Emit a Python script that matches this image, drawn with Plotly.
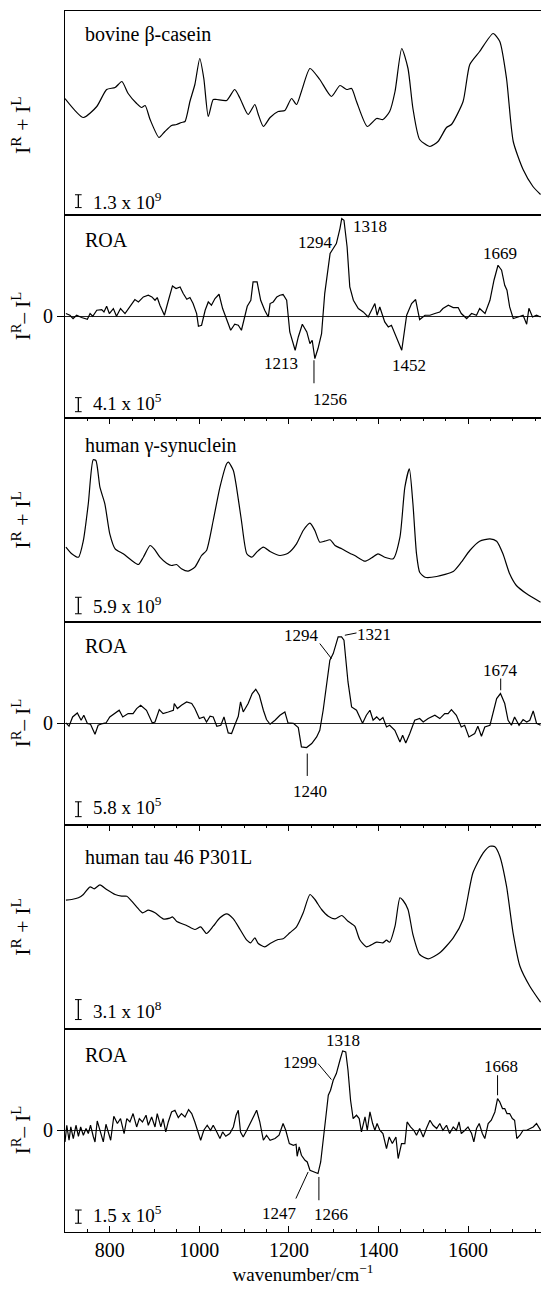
import plotly.graph_objects as go

# ---------------- data (wavenumber / cm^-1, relative intensity) ----------------
casein_raman_wn = [700, 741, 771, 793, 812, 827, 841, 860, 871, 879, 890, 910, 923, 938, 949, 960, 968, 979,
                   990, 1001, 1010, 1020, 1031, 1039, 1061, 1079, 1091, 1109, 1124, 1131, 1143, 1158, 1176,
                   1191, 1206, 1217, 1228, 1247, 1269, 1295, 1314, 1329, 1340, 1351, 1375, 1396, 1410, 1425,
                   1437, 1452, 1466, 1477, 1492, 1515, 1533, 1552, 1563, 1589, 1604, 1626, 1656, 1671, 1686,
                   1701, 1723, 1745, 1762]
casein_raman_int = [116, 97, 108, 125, 127, 133, 121, 111, 107, 109, 95, 77, 83, 89, 90, 92, 93, 113,
                    130, 156, 136, 98, 115, 115, 114, 125, 116, 100, 110, 101, 88, 97, 103,
                    104, 116, 110, 123, 146, 135, 118, 129, 125, 126, 113, 88, 96, 95, 103,
                    123, 166, 146, 106, 75, 68, 73, 87, 90, 113, 150, 163, 181, 173, 136,
                    73, 45, 28, 20]

casein_roa_wn = [702, 711, 718, 726, 737, 750, 756, 762, 771, 782, 787, 793, 799, 808, 815, 824, 834, 845,
                 856, 864, 875, 886, 894, 901, 906, 912, 922, 931, 940, 948, 957, 964, 972, 979, 986, 994,
                 998, 1005, 1013, 1020, 1027, 1035, 1044, 1052, 1061, 1070, 1079, 1087, 1094, 1102, 1107,
                 1115, 1120, 1129, 1137, 1146, 1154, 1158, 1165, 1173, 1180, 1187, 1195, 1202, 1214, 1221,
                 1230, 1240, 1247, 1252, 1258, 1265, 1273, 1280, 1292, 1299, 1306, 1314, 1318, 1323, 1330,
                 1336, 1344, 1355, 1366, 1377, 1385, 1392, 1397, 1403, 1414, 1422, 1429, 1440, 1452, 1463,
                 1474, 1483, 1492, 1504, 1515, 1526, 1537, 1544, 1556, 1567, 1578, 1585, 1597, 1608, 1619,
                 1626, 1638, 1649, 1658, 1667, 1675, 1682, 1687, 1693, 1701, 1712, 1723, 1731, 1736, 1744,
                 1753, 1762]
casein_roa_int = [2.7, 1, -2.3, 1, -1.3, -3, 2.7, 0, 6, 6.7, 4.3, 10, 2.7, 7.7, 0, 7.7, 2.7, 9.3,
                  16.7, 14.3, 19.3, 21, 19.3, 16, 18.7, 11, 1, 16, 30.3, 27.7, 29.3, 22.7, 17, 18.7, 12.7, 2.7,
                  -10, -9, 6, 14.3, 11, 17.7, 22, 7.7, -2.3, -14, -8, -9, -14, 1, 10,
                  16, 34.3, 34.3, 16, 6, -0.7, 12.7, 14.3, 19.3, 21, 21.7, 16, -15.7, -34, -20.7,
                  -8, -15.7, -27.3, -24, -42.3, -32.3, -17.3, 22.7, 62.7, 67.7, 72.7, 87.7, 97.7, 96, 69.3,
                  29.3, 16, 7.7, 4.3, -0.7, 6, 12.7, 1, 9.3, -5.7, -10.7, -9, -20.7, -34, 1,
                  12.7, 16.7, -3.3, 1, 1, 2.7, 4.3, 7.7, 11, 8.7, 8.7, 2.7, -2.3, 2.7, 1,
                  7.7, 2.7, 16, 36, 51, 46, 31, 26, 9.3, -2.3, -0.7, 1, -8, 8, -0.7,
                  1, -0.7]

synuclein_raman_wn = [702, 715, 730, 741, 752, 763, 769, 778, 789, 800, 812, 830, 849, 864, 875, 890, 899, 912,
                      927, 938, 949, 960, 975, 990, 1005, 1016, 1031, 1046, 1061, 1065, 1076, 1083, 1094, 1106,
                      1117, 1128, 1143, 1158, 1180, 1198, 1217, 1232, 1247, 1258, 1269, 1280, 1292, 1303, 1318,
                      1336, 1347, 1370, 1385, 1399, 1414, 1433, 1448, 1459, 1469, 1477, 1485, 1492, 1504, 1530,
                      1567, 1585, 1604, 1626, 1649, 1664, 1678, 1693, 1708, 1731, 1762]
synuclein_raman_int = [74.3, 67.7, 64.3, 81, 117.7, 161.7, 161, 134.3, 117.7, 87.7, 72.7, 67.7, 61, 57, 64.3, 76, 72.7, 64.3,
                       58.3, 56, 57, 52.7, 50.3, 54.3, 66, 71, 101, 134.3, 157.7, 159.3, 151, 134.3, 101, 67.7,
                       64.3, 69.3, 74.3, 70, 66, 68.3, 77.7, 91, 98.3, 91, 79.3, 80.3, 81.7, 76, 72.7,
                       68.3, 66, 60.3, 63.7, 67.7, 64.3, 62.7, 84.3, 134.3, 152.7, 117.7, 67.7, 49.3, 44.3, 45,
                       50, 59.3, 71, 80.3, 82.7, 80.3, 67.7, 47.7, 36, 27.7, 19.3]

synuclein_roa_wn = [702, 709, 717, 727.5, 736, 742, 750, 757, 767, 774, 784, 791.5, 800, 812, 821, 829, 841, 852,
                    860, 869, 882, 895, 901, 910.5, 919, 930.6, 942, 944, 951, 960, 971.6, 983, 990, 1000, 1010,
                    1016, 1024, 1031, 1039, 1048, 1055, 1064.5, 1072, 1079, 1087, 1092, 1098, 1109, 1118, 1126,
                    1134, 1143, 1150, 1158, 1169, 1180, 1191, 1198, 1210, 1221, 1228, 1239.5, 1251, 1262, 1269,
                    1276.5, 1284, 1291.5, 1299, 1310, 1317.6, 1323, 1332, 1340, 1351, 1364.5, 1373, 1381, 1388,
                    1396, 1403, 1410, 1418, 1425, 1436.6, 1448, 1454, 1461, 1470, 1481, 1492, 1500, 1511, 1526,
                    1537, 1548, 1555.5, 1563, 1574, 1585, 1592.5, 1602, 1615, 1622, 1630, 1637.5, 1649, 1657.5,
                    1664, 1672.5, 1682, 1689.5, 1697, 1704, 1714, 1723, 1731, 1738, 1745.6, 1753, 1762]
synuclein_roa_int = [0.3, -3, 6.3, 10.3, 3, 8, -0.3, -1, -11, -2, -0.3, 0.3, 6.3, 9.7, 13, 6.3, 9.7, 9.7,
                     14.7, 18, 13, 0.3, 1.3, 13.7, 9.7, 11.3, 13, 19.7, 14.7, 18, 21.3, 19.7, 14.7, 4.7, 6.3,
                     1.3, 7, 6.3, -3, -2, 6.3, -9.7, -10.3, -2, 7, 21.3, 11.3, 19.7, 29.7, 34,
                     28, 13, 3.7, -1, 3, 8, 11.3, 0.3, 0, -4.3, -23.7, -24.3, -20.3, -13.7, -7,
                     13, 36.3, 63, 69.7, 86.3, 86.3, 83, 41.3, 16.3, 13, 0, 8, 13, 3,
                     6.3, 3, 5.7, -3.7, -2, -7, -18.7, -12, -19.7, -10.3, 3, 4.7, 1.3, 4.7, 8,
                     4.7, 9.7, 9.7, 13.7, 8, -3.7, -2, -13.7, -10.3, -3, -13, -3.7, -2, 13,
                     24.7, 29.7, 19.7, 3, -2, 6.3, -2, 3.7, 1.3, 3, 12.3, 0, -2]

tau_raman_wn = [702, 715, 730, 741, 756, 765, 778, 793, 812, 826.5, 838, 849, 860, 873, 886, 901, 919, 934,
                940, 949, 971.6, 990, 1003, 1016, 1031, 1046, 1061, 1076, 1091, 1106, 1114.5, 1124, 1131.5,
                1146, 1158, 1176, 1187, 1202, 1217, 1232, 1247, 1258, 1273, 1288, 1303, 1318, 1332, 1347,
                1358, 1373, 1396, 1410, 1418, 1425, 1437, 1448, 1455, 1466, 1477, 1492, 1511, 1537, 1567,
                1589, 1611, 1634, 1649, 1660, 1671, 1686, 1700.6, 1716, 1738, 1762]
tau_raman_int = [128.3, 129, 130.7, 134, 141.7, 139.7, 143.7, 139, 134, 132.3, 132.3, 127.3, 121.7, 115.7, 118.3, 115.7, 109.7, 110.3,
                 111.7, 107.3, 103, 99, 101.7, 95, 102.3, 110.7, 114.7, 109.7, 99, 88.3, 85.7, 90.7, 85,
                 81.7, 85, 89, 89.7, 95.7, 101.7, 115.7, 134, 129, 119, 112.3, 109.7, 113, 107.3, 102.3,
                 89, 81.7, 86.3, 85.7, 88.3, 86.3, 102.3, 130.7, 128, 119, 94, 74, 69.7, 75.7, 90.7,
                 109, 155.7, 175.7, 182.3, 181.7, 172.3, 142.3, 95.7, 62.3, 42.3, 26.3]

tau_roa_wn = [700, 704, 709, 713, 718.5, 724.5, 730, 735, 741, 747, 752, 757, 763, 767, 772, 778, 785.5, 791.5,
              796.6, 802, 809, 817, 824, 832, 838, 845, 852, 860, 866, 873, 881, 886, 893.5, 901, 906, 914,
              919, 925, 930.6, 938, 945.5, 953, 960, 968, 976, 983, 990, 997.5, 1003, 1010, 1017.6, 1025,
              1031, 1039, 1046, 1052, 1059, 1068, 1076, 1082, 1087, 1092, 1098, 1106, 1113, 1120, 1128,
              1135, 1143, 1150, 1158, 1169, 1178, 1187, 1193, 1201, 1210, 1216, 1218.5, 1223, 1228, 1236,
              1241, 1247, 1258, 1265, 1271, 1276.5, 1282.5, 1288, 1293, 1299, 1306, 1314, 1320, 1327, 1332,
              1337.7, 1343.5, 1351, 1357, 1362, 1370, 1375, 1381, 1387, 1392, 1397, 1403, 1410, 1418, 1424,
              1431, 1439, 1444, 1451.5, 1459, 1464, 1471.6, 1479, 1485, 1492, 1500, 1507, 1515, 1522, 1530,
              1537, 1544, 1552, 1559, 1567, 1574, 1580, 1585, 1593, 1600, 1608, 1613, 1619, 1625, 1632,
              1637.5, 1645, 1652, 1660, 1666, 1671, 1677, 1682, 1687, 1693, 1699, 1704, 1709, 1716, 1723,
              1731, 1738, 1745.6, 1753, 1762]
tau_roa_int = [-11.7, 5, -10, 3.3, -8.3, 5, -6, 3.3, -5, 1.7, -3.3, 5, -6, -11.7, 9.3, 0, -11.7, 6,
               -1.7, -10, 14, 6.7, 11.7, -3.3, 11.7, 8.3, 16.7, 3.3, 11.7, 8.3, 15, 5, 13.3, 3.3, 16.7, 3.3,
               11.7, -1.7, 8.3, 18.3, 20, 12.7, 16.7, 13.3, 20.7, 16.7, 8.3, -1.7, -10, 0, 5, 0,
               5, -1.7, -8.3, -1.7, -6, -3.3, 3.3, 15, 20, -1.7, -6.7, 0, 6.7, 13.3, 20,
               8.3, -10, -5, -10, -8.3, -5, 6.7, 0, -13.3, -15, -14, -26, -16.7, -25, -30,
               -31.7, -40, -41.7, -43.3, -31.7, -6.7, 13.3, 35, 40, 50, 56.7, 70, 79.3, 78.3, 60,
               30, 11.7, 15, 11.7, -1.7, 13.3, 0, 18.3, 6.7, 0, 6.7, 0, -3.3, -18.3, -6.7,
               -13.3, -6.7, -28.3, -13.3, -13.3, 8.3, 3.3, 0, -5, 1.7, -6.7, 1.7, 10, 5, 1.7,
               6.7, 0, 5, -3.3, 3.3, 0, 8.3, -3.3, 0, 3.3, -3.3, -11.7, 1.7, 6.7, -3.3,
               -8.3, 6.7, 10, 18.3, 31.7, 28.3, 21.7, 21.7, 16.7, 16.7, 11.7, 10, -8.3, -5, 0,
               0, 1.7, 3.3, 6.7, 0]

panel_names = ["bovine β-casein", "ROA", "human γ-synuclein", "ROA", "human tau 46 P301L", "ROA"]
scale_labels = ["1.3 x 10<sup>9</sup>", "4.1 x 10<sup>5</sup>", "5.9 x 10<sup>9</sup>",
                "5.8 x 10<sup>5</sup>", "3.1 x 10<sup>8</sup>", "1.5 x 10<sup>5</sup>"]
x_tick_values = [800, 1000, 1200, 1400, 1600]

# peak labels: (panel index, text)
peak_labels = [
    (1, "1213"), (1, "1256"), (1, "1294"), (1, "1318"), (1, "1452"), (1, "1669"),
    (3, "1294"), (3, "1321"), (3, "1674"), (3, "1240"),
    (5, "1318"), (5, "1299"), (5, "1668"), (5, "1247"), (5, "1266"),
]

# ---------------- layout / style ----------------
FONT = "Liberation Serif"
W, H = 541, 1291
ML, MR, MT, MB = 65, 0, 11, 59
X_RANGE = [700, 1763]
RAMAN_RANGE = [0, 203.5]
ROA_RANGE = [-101.75, 101.75]

series = [(casein_raman_wn, casein_raman_int, "raman"),
          (casein_roa_wn, casein_roa_int, "roa"),
          (synuclein_raman_wn, synuclein_raman_int, "raman"),
          (synuclein_roa_wn, synuclein_roa_int, "roa"),
          (tau_raman_wn, tau_raman_int, "raman"),
          (tau_roa_wn, tau_roa_int, "roa")]

# positions of decorations (domain fractions)
name_y = [0.885, 0.877, 0.863, 0.882, 0.845, 0.872]
ytitle_y = [0.44, 0.5, 0.5, 0.5, 0.5, 0.5]
bar_y = [(0.034, 0.097), (0.031, 0.100), (0.038, 0.119), (0.041, 0.114), (0.044, 0.142), (0.043, 0.108)]
bar_text_y = [0.068, 0.079, 0.082, 0.094, 0.089, 0.088]

# label placement in data coords: x, y ; optional leader line (x0, y0, x1, y1)
label_pos = [
    (1182, -47, None), (1292, -83, (1256, -44, 1256, -67)), (1260, 74, None), (1381, 90, None),
    (1469, -49, None), (1672, 63, None),
    (1228, 88, (1269, 79.7, 1295, 64.7)), (1389, 89, (1325, 88, 1351, 90.3)),
    (1673, 53, (1673, 44.7, 1673, 33)), (1247, -68.7, (1241, -30.3, 1241, -52.7)),
    (1321, 90, None), (1224.5, 67.3, (1265, 66.7, 1295, 50.7)), (1673, 64, (1666, 55, 1666, 35)),
    (1179, -83.3, (1215.6, -68.3, 1243, -41.7)), (1295, -84.3, (1267, -46.7, 1267, -70)),
]

fig = go.Figure()
n = 6
layout = dict(
    width=W, height=H,
    margin=dict(l=ML, r=MR, t=MT, b=MB, pad=0),
    paper_bgcolor="white", plot_bgcolor="rgba(0,0,0,0)",
    showlegend=False,
    font=dict(family=FONT, color="black", size=19),
)
annotations = []
shapes = []

for i, (wx, wy, kind) in enumerate(series):
    k = "" if i == 0 else str(i + 1)
    xa, ya = "x" + k, "y" + k
    top = 1 - i / n
    bot = 1 - (i + 1) / n
    fig.add_trace(go.Scatter(
        x=wx, y=wy, mode="lines", xaxis=xa, yaxis=ya,
        line=dict(color="black", width=1.2, shape="spline" if kind == "raman" else "linear",
                  smoothing=0.6 if kind == "raman" else None),
        hoverinfo="skip"))

    xaxis = dict(domain=[0, 1], anchor=ya, range=X_RANGE, showline=True, linecolor="black",
                 linewidth=1, mirror=True, showgrid=False, zeroline=False,
                 showticklabels=False, ticks="")
    if i in (2, 4):
        xaxis.update(side="top", ticks="inside", tickmode="array", tickvals=x_tick_values,
                     ticklen=6, tickwidth=1, tickcolor="black",
                     minor=dict(ticks="inside", ticklen=3, tickwidth=1, tickcolor="black",
                                dtick=50, tick0=700))
    if i == 5:
        xaxis.update(ticks="inside", tickmode="array", tickvals=x_tick_values,
                     ticklen=6, tickwidth=1, tickcolor="black", showticklabels=True,
                     tickfont=dict(size=20, family=FONT),
                     minor=dict(ticks="inside", ticklen=3, tickwidth=1, tickcolor="black",
                                dtick=50, tick0=700),
                     title=dict(text="wavenumber/cm<sup>−1</sup>", font=dict(size=19, family=FONT),
                                standoff=6))
    layout["xaxis" + k] = xaxis

    yaxis = dict(domain=[bot, top], anchor=xa, showline=True, linecolor="black", linewidth=1,
                 mirror=False, showgrid=False, fixedrange=True)
    if kind == "raman":
        yaxis.update(range=RAMAN_RANGE, ticks="", showticklabels=False, zeroline=False)
    else:
        yaxis.update(range=ROA_RANGE, tickmode="array", tickvals=[0], ticktext=["0"],
                     ticks="outside", ticklen=7, tickwidth=1, tickcolor="black",
                     tickfont=dict(size=20, family=FONT),
                     zeroline=True, zerolinecolor="#222", zerolinewidth=1)
    layout["yaxis" + k] = yaxis

    # panel name
    annotations.append(dict(text=panel_names[i], xref=xa + " domain", yref=ya + " domain",
                            x=0.037, y=name_y[i], xanchor="left", yanchor="middle",
                            showarrow=False, font=dict(size=20, family=FONT)))
    # y-axis title
    if kind == "raman":
        ytxt, ysz = "I<sup>R</sup> + I<sup>L</sup>", 22
    else:
        ytxt, ysz = "I<sup>R</sup>– I<sup>L</sup>", 21
    annotations.append(dict(text=ytxt, xref="paper", yref=ya + " domain",
                            x=(21 - ML) / (W - ML - MR), y=ytitle_y[i], xanchor="center",
                            yanchor="middle", textangle=-90, showarrow=False,
                            font=dict(size=ysz, family=FONT)))
    # scale bar
    bx = 0.028
    y0, y1 = bar_y[i]
    shapes.append(dict(type="line", xref=xa + " domain", yref=ya + " domain",
                       x0=bx, x1=bx, y0=y0, y1=y1, line=dict(color="black", width=1.3)))
    for yy in (y0, y1):
        shapes.append(dict(type="line", xref=xa + " domain", yref=ya + " domain",
                           x0=bx - 0.007, x1=bx + 0.007, y0=yy, y1=yy,
                           line=dict(color="black", width=1)))
    annotations.append(dict(text=scale_labels[i], xref=xa + " domain", yref=ya + " domain",
                            x=0.055, y=bar_text_y[i], xanchor="left", yanchor="middle",
                            showarrow=False, font=dict(size=19, family=FONT)))

# peak labels
for (pi, txt), (lx, ly, leader) in zip(peak_labels, label_pos):
    k = "" if pi == 0 else str(pi + 1)
    annotations.append(dict(text=txt, xref="x" + k, yref="y" + k, x=lx, y=ly,
                            xanchor="center", yanchor="middle", showarrow=False,
                            font=dict(size=17, family=FONT)))
    if leader is not None:
        x0, y0, x1, y1 = leader
        shapes.append(dict(type="line", xref="x" + k, yref="y" + k,
                           x0=x0, y0=y0, x1=x1, y1=y1, line=dict(color="black", width=1)))

layout["annotations"] = annotations
layout["shapes"] = shapes
fig.update_layout(**layout)
fig.write_html("out.html")
